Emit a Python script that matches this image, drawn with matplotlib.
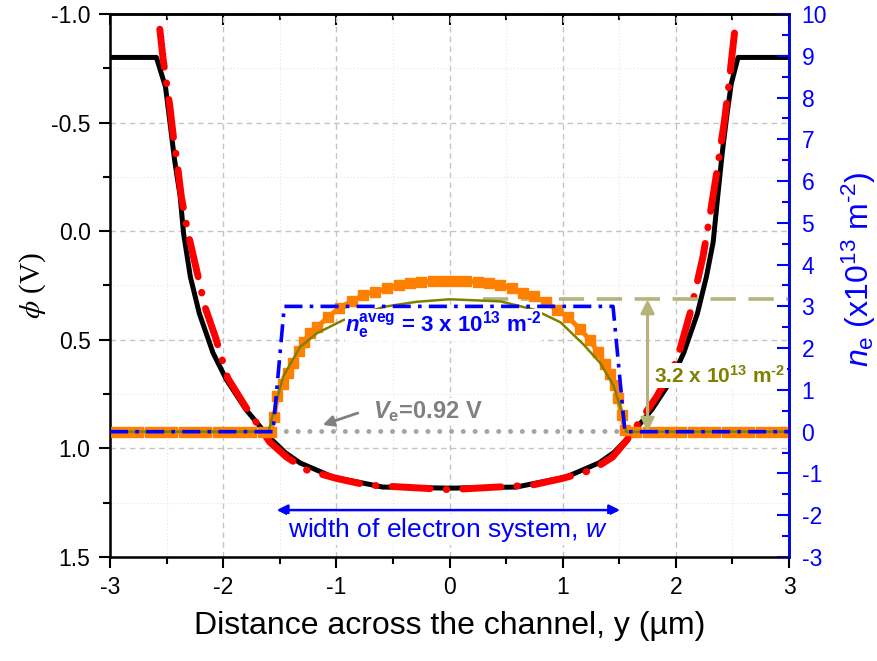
import matplotlib
matplotlib.use("Agg")
import matplotlib.pyplot as plt
from matplotlib.ticker import MultipleLocator, FormatStrFormatter

plt.rcParams["font.family"] = ["Liberation Sans", "DejaVu Sans"]
plt.rcParams["mathtext.fontset"] = "custom"
plt.rcParams["mathtext.rm"] = "Liberation Sans"
plt.rcParams["mathtext.it"] = "Liberation Sans:italic"
plt.rcParams["mathtext.bf"] = "Liberation Sans:bold"
plt.rcParams["mathtext.bfit"] = "Liberation Sans:italic:bold"
plt.rcParams["mathtext.fallback"] = "stixsans"
plt.rcParams["axes.unicode_minus"] = False

BLUE = "#0000ff"
RED = "#ff0000"
ORANGE = "#ff8000"
OLIVE = "#808000"
KHAKI = "#b3b37a"
GRAY = "#808080"
HY = "\u2010"  # short hyphen for exponents
WHITE_BOX = dict(facecolor="white", edgecolor="none", pad=1.0)
TIGHT_BOX = dict(facecolor="white", edgecolor="none", pad=0.0)

# potential phi (V) across the channel, left axis
phi_y = [-3.00, -2.59, -2.51, -2.47, -2.43, -2.38, -2.35, -2.29, -2.21, -2.09, -1.97,
         -1.80, -1.61, -1.45, -1.32, -1.03, -0.59, 0.00, 0.59, 1.03, 1.32, 1.45,
         1.60, 1.79, 1.96, 2.07, 2.19, 2.27, 2.33, 2.37, 2.41, 2.45, 2.49, 2.55, 3.00]
phi_black = [-0.80, -0.80, -0.665, -0.50, -0.33, -0.16, 0.01, 0.21, 0.38, 0.56, 0.685,
             0.82, 0.94, 1.02, 1.067, 1.132, 1.178, 1.183, 1.178, 1.132, 1.067, 1.02,
             0.94, 0.82, 0.685, 0.56, 0.38, 0.21, 0.05, -0.16, -0.36, -0.53, -0.68, -0.80, -0.80]

fit_y = [-2.56, -2.53, -2.50, -2.47, -2.44, -2.41, -2.37, -2.31, -2.23, -2.16, -2.07,
         -1.96, -1.80, -1.59, -1.44, -1.26, -1.00, -0.73, 0.00, 0.73, 1.00, 1.26,
         1.44, 1.57, 1.83, 2.01, 2.13, 2.24, 2.31, 2.37, 2.43, 2.47, 2.49, 2.52]
phi_red = [-0.93, -0.79, -0.68, -0.57, -0.435, -0.33, -0.16, 0.01, 0.19, 0.35, 0.485,
           0.676, 0.81, 0.97, 1.04, 1.10, 1.138, 1.169, 1.19, 1.169, 1.138, 1.10,
           1.04, 0.96, 0.762, 0.593, 0.37, 0.117, -0.10, -0.30, -0.51, -0.68, -0.78, -0.92]

# electron density (1e13 m^-2), right axis
ne_y = [-2.95, -2.85, -2.75, -2.65, -2.55, -2.45, -2.35, -2.25, -2.15, -2.05, -1.95,
        -1.85, -1.75, -1.65, -1.58, -1.55, -1.52, -1.47, -1.43, -1.38, -1.33, -1.29,
        -1.23, -1.17, -1.07, -0.97, -0.86, -0.76, -0.66, -0.55, -0.45, -0.35, -0.25,
        -0.15, -0.05, 0.05, 0.15, 0.25, 0.35, 0.45, 0.55, 0.65, 0.75, 0.85, 0.95,
        1.05, 1.15, 1.24, 1.31, 1.37, 1.42, 1.46, 1.49, 1.52, 1.55, 1.65, 1.75, 1.85,
        1.95, 2.05, 2.15, 2.25, 2.35, 2.45, 2.55, 2.65, 2.75, 2.85, 2.95]
ne_orange = [0, 0, 0, 0, 0, 0, 0, 0, 0, 0, 0,
             0, 0, 0, 0, 0.35, 0.85, 1.15, 1.40, 1.64, 1.92, 2.15,
             2.36, 2.51, 2.75, 2.97, 3.13, 3.27, 3.35, 3.43, 3.51, 3.56, 3.59,
             3.60, 3.60, 3.60, 3.60, 3.59, 3.56, 3.51, 3.44, 3.33, 3.24, 3.10, 2.92,
             2.74, 2.46, 2.20, 1.90, 1.62, 1.38, 1.12, 0.80, 0.40, 0.05, 0, 0, 0,
             0, 0, 0, 0, 0, 0, 0, 0, 0, 0, 0]

model_y = [-3.00, -1.60, -1.47, -1.32, -1.17, -0.94, -0.58, -0.29, 0.00, 0.45, 0.75,
           0.98, 1.18, 1.33, 1.45, 1.52, 1.56, 3.00]
ne_olive = [0, 0, 1.32, 2.03, 2.36, 2.67, 2.99, 3.11, 3.17, 3.12, 2.92,
            2.62, 2.10, 1.65, 1.10, 0.50, 0, 0]

step_y = [-3.00, -1.56, -1.46, 1.445, 1.55, 3.00]
ne_step = [0, 0, 3.0, 3.0, 0, 0]

Ve = 0.92
ne_peak = 3.17
w_edges = [-1.527, 1.507]

fig = plt.figure(figsize=(8.77, 6.61), dpi=100)
ax = fig.add_axes([0.12543, 0.15734, 0.77423, 0.82148])
ax2 = ax.twinx()

# left axis: phi
ax.plot(phi_y, phi_black, color="black", lw=3.6, solid_joinstyle="round", zorder=3)
ax.plot(fit_y, phi_red, color=RED, lw=5, linestyle=(0, (5.5, 2.3, 0.1, 2.3)),
        dash_capstyle="round", zorder=4)
ax.plot([-1.55, 1.55], [Ve, Ve], color="#a6a6a6", lw=3.6,
        linestyle=(0, (0.01, 2.35)), dash_capstyle="round", zorder=2)

ax.set_xlim(-3, 3)
ax.set_ylim(1.5, -1.0)
ax.xaxis.set_major_locator(MultipleLocator(1))
ax.xaxis.set_minor_locator(MultipleLocator(0.5))
ax.yaxis.set_major_locator(MultipleLocator(0.5))
ax.yaxis.set_minor_locator(MultipleLocator(0.25))
ax.yaxis.set_major_formatter(FormatStrFormatter("%.1f"))
ax.grid(which="major", color="#c4c4c4", linestyle=(0, (4, 3)), lw=1.0)
ax.grid(which="minor", color="#e4e4e4", linestyle=(0, (1, 2)), lw=0.8)
ax.set_axisbelow(True)
ax.tick_params(which="major", direction="out", length=8, width=1.5, labelsize=16.5, pad=6)
ax.tick_params(which="minor", direction="out", length=5, width=1.5)
for s in ax.spines.values():
    s.set_linewidth(1.8)

top = ax.secondary_xaxis("top")
top.xaxis.set_major_locator(MultipleLocator(1))
top.xaxis.set_minor_locator(MultipleLocator(0.5))
top.tick_params(which="major", direction="in", length=8, width=1.5, labeltop=False)
top.tick_params(which="minor", direction="in", length=4, width=1.5)
top.spines["top"].set_linewidth(1.8)

ax.set_xlabel("Distance across the channel, y (µm)", fontsize=23, labelpad=8)
ax.set_ylabel(r"$\phi$ (V)", fontsize=21, family="Liberation Serif",
              math_fontfamily="stix", labelpad=2)

# right axis: n_e
ax2.plot(ne_y, ne_orange, color=ORANGE, lw=3.5, marker="s", ms=7, mec=ORANGE, zorder=2)
ax2.plot(model_y, ne_olive, color=OLIVE, lw=1.8, zorder=3)
ax2.plot(step_y, ne_step, color=BLUE, lw=2.6, linestyle=(0, (5, 2, 1, 2)), zorder=4)
ax2.plot([0.3, 3.0], [ne_peak, ne_peak], color=KHAKI, lw=2.6,
         linestyle=(0, (7, 3.5)), zorder=1)
ax2.annotate("", xy=(1.75, ne_peak), xytext=(1.75, 0),
             arrowprops=dict(arrowstyle="<|-|>", color=KHAKI, lw=2.2,
                             mutation_scale=20, shrinkA=0, shrinkB=0))

ax2.set_ylim(-3, 10)
ax2.yaxis.set_major_locator(MultipleLocator(1))
ax2.yaxis.set_minor_locator(MultipleLocator(0.5))
ax2.tick_params(which="major", direction="in", length=9, width=1.5, colors=BLUE,
                labelsize=16.5, pad=9)
ax2.tick_params(which="minor", direction="in", length=5, width=1.5, colors=BLUE)
ax2.spines["right"].set_color(BLUE)
ax2.spines["right"].set_linewidth(1.8)
ax2.set_ylabel(r"$n_\mathrm{e}$ (x10$^{13}$ m$^{" + HY + "2}$)", fontsize=23, color=BLUE)
ax2.yaxis.set_label_coords(1.075, 0.53)

# annotations
ax2.text(-0.923, 2.39,
         r"$\mathbfit{n}_\mathbf{e}^\mathbf{aveg}$ = 3 x 10$^\mathbf{13}$ m$^\mathbf{" + HY + "2}$",
         color=BLUE, fontsize=16, fontweight="bold", va="baseline", ha="left",
         bbox=TIGHT_BOX, zorder=6)
ax2.text(1.81, 1.17, r"3.2 x 10$^\mathbf{13}$ m$^\mathbf{" + HY + "2}$",
         color=OLIVE, fontsize=15, fontweight="bold", va="baseline", ha="left",
         bbox=WHITE_BOX, zorder=6)

ax.annotate("", xy=(-1.12, 0.892), xytext=(-0.81, 0.837),
            arrowprops=dict(arrowstyle="-|>", color=GRAY, lw=2, mutation_scale=16,
                            shrinkA=0, shrinkB=0))
ax.text(-0.676, 0.860, r"$\mathbfit{V}_\mathbf{e}$=0.92 V", color=GRAY,
        fontsize=17, fontweight="bold", va="baseline", ha="left",
        bbox=WHITE_BOX, zorder=6)

ax.annotate("", xy=(w_edges[0], 1.284), xytext=(w_edges[1], 1.284),
            arrowprops=dict(arrowstyle="<|-|>", color=BLUE, lw=1.8, mutation_scale=16,
                            shrinkA=0, shrinkB=0))
ax.text(-0.01, 1.406, r"width of electron system, $w$", color=BLUE, fontsize=19,
        va="baseline", ha="center", bbox=WHITE_BOX, zorder=6)

fig.savefig("out.png", dpi=100)
